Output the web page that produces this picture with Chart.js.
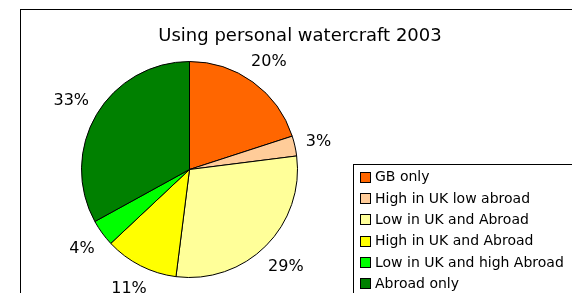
<!DOCTYPE html>
<html>
<head>
<meta charset="utf-8">
<script src="https://cdn.jsdelivr.net/npm/chart.js@4.4.1/dist/chart.umd.min.js"></script>
<style>
  html, body { margin: 0; padding: 0; background: #fff; }
  #wrap { width: 572px; height: 293px; }
</style>
</head>
<body>
<div id="wrap"><canvas id="pwc-pie" width="572" height="293"></canvas></div>
<script>
var chartTitle = "Using personal watercraft 2003";
var categories = ["GB only", "High in UK low abroad", "Low in UK and Abroad",
                  "High in UK and Abroad", "Low in UK and high Abroad", "Abroad only"];
var shares = [20, 3, 29, 11, 4, 33];
var sliceColors = ["#FF6600", "#FFCC99", "#FFFF99", "#FFFF00", "#00FF00", "#008000"];

var FONT = "'DejaVu Sans', Tahoma, sans-serif";

// frame, title, percentage labels and legend box drawn like the old Excel chart
var excelBits = {
    id: 'excelBits',
    afterDraw: function(chart) {
        var ctx = chart.ctx;
        ctx.save();

        // outer frame (runs off the right and bottom of the picture)
        ctx.strokeStyle = '#000';
        ctx.lineWidth = 1;
        ctx.strokeRect(20.5, 9.5, 700, 400);

        // title
        ctx.fillStyle = '#000';
        ctx.font = '18px ' + FONT;
        ctx.textAlign = 'center';
        ctx.textBaseline = 'alphabetic';
        ctx.fillText(chartTitle, 300, 41);

        // percent labels outside the slices
        ctx.font = '16px ' + FONT;
        ctx.textAlign = 'center';
        ctx.textBaseline = 'middle';
        var meta = chart.getDatasetMeta(0);
        meta.data.forEach(function(arc, i) {
            var p = arc.getProps(['x', 'y', 'startAngle', 'endAngle', 'outerRadius'], true);
            var mid = (p.startAngle + p.endAngle) / 2;
            var dx = Math.cos(mid), dy = Math.sin(mid);
            var txt = shares[i] + '%';
            var hw = ctx.measureText(txt).width / 2, hh = 8;
            var ext = Math.abs(dx) * hw + Math.abs(dy) * hh;
            var d = p.outerRadius + 10 + ext;
            ctx.fillText(txt, p.x + dx * d, p.y + dy * d + 1);
        });

        // legend
        var lx = 353.5, ly = 164.5;
        ctx.fillStyle = '#fff';
        ctx.fillRect(lx, ly, 400, 200);
        ctx.strokeStyle = '#000';
        ctx.strokeRect(lx, ly, 400, 200);
        ctx.textAlign = 'left';
        ctx.font = '14px ' + FONT;
        categories.forEach(function(name, i) {
            var cy = 176.7 + i * 21.3;
            ctx.fillStyle = sliceColors[i];
            ctx.fillRect(360.5, Math.round(cy - 5) + 0.5, 10, 10);
            ctx.strokeStyle = '#000';
            ctx.strokeRect(360.5, Math.round(cy - 5) + 0.5, 10, 10);
            ctx.fillStyle = '#000';
            ctx.fillText(name, 375, cy + 1);
        });

        ctx.restore();
    }
};

new Chart(document.getElementById('pwc-pie').getContext('2d'), {
    type: 'pie',
    data: {
        labels: categories,
        datasets: [{
            data: shares,
            backgroundColor: sliceColors,
            borderColor: '#000',
            borderWidth: 1,
            radius: 108
        }]
    },
    options: {
        responsive: false,
        animation: false,
        layout: { padding: { left: 0, right: 193, top: 46, bottom: 0 } },
        plugins: {
            legend: { display: false },
            title: { display: false },
            tooltip: { enabled: false }
        }
    },
    plugins: [excelBits]
});
</script>
</body>
</html>
